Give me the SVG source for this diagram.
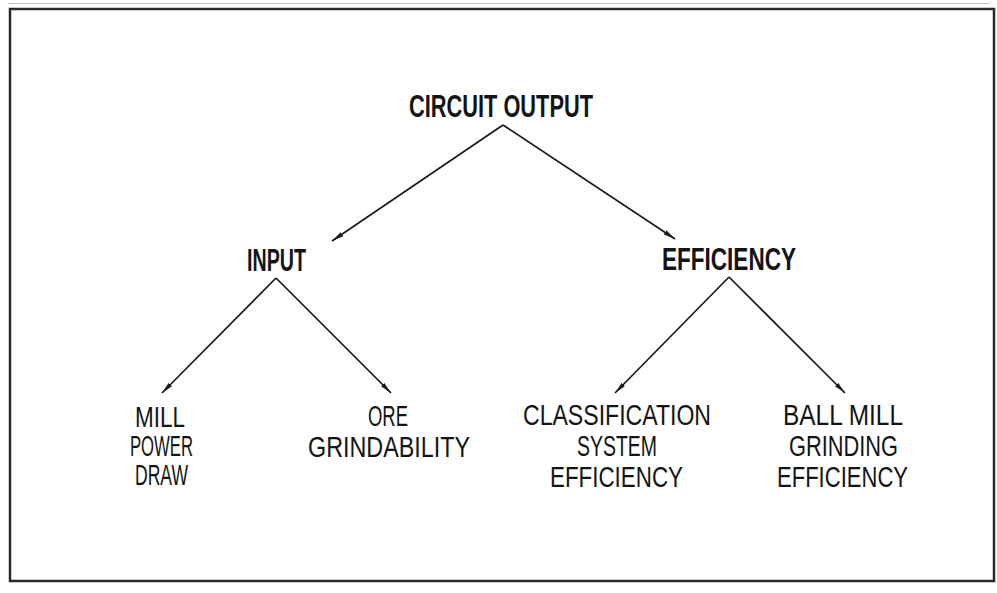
<svg xmlns="http://www.w3.org/2000/svg" width="997" height="593" viewBox="0 0 997 593">
  <style>
    .frame { fill: none; stroke: #2a2a2a; stroke-width: 2.5; }
    .edge { fill: none; stroke: #1a1a1a; stroke-width: 1.7; marker-end: url(#arrow); }
    .head { font-family: "Liberation Sans", "DejaVu Sans", sans-serif; font-weight: bold; font-size: 32px; fill: #141414; }
    .leaf { font-family: "Liberation Sans", "DejaVu Sans", sans-serif; font-size: 29px; fill: #141414; }
  </style>
  <defs>
    <marker id="arrow" viewBox="0 0 12 6" refX="12" refY="3" markerWidth="12" markerHeight="6" markerUnits="userSpaceOnUse" orient="auto">
      <path d="M0,0.6 L12,3 L0,5.4 Z" fill="#1a1a1a"/>
    </marker>
  </defs>

  <rect width="997" height="593" fill="#ffffff"/>
  <line x1="8" y1="3.5" x2="990" y2="3.5" stroke="#9a9a9a" stroke-width="1" opacity="0.6"/>
  <rect class="frame" x="10" y="9" width="984" height="572"/>

  <g id="connectors">
    <line class="edge" x1="503" y1="125" x2="332" y2="241"/>
    <line class="edge" x1="503" y1="125" x2="675" y2="239"/>
    <line class="edge" x1="276" y1="278" x2="162" y2="393"/>
    <line class="edge" x1="276" y1="278" x2="391" y2="393"/>
    <line class="edge" x1="729" y1="277" x2="615" y2="393"/>
    <line class="edge" x1="729" y1="277" x2="845" y2="393"/>
  </g>

  <g id="circuit-output">
    <text class="head" x="409" y="117" textLength="184" lengthAdjust="spacingAndGlyphs">CIRCUIT OUTPUT</text>
  </g>
  <g id="input">
    <text class="head" x="247" y="271" textLength="59" lengthAdjust="spacingAndGlyphs">INPUT</text>
  </g>
  <g id="efficiency">
    <text class="head" x="662" y="270" textLength="134" lengthAdjust="spacingAndGlyphs">EFFICIENCY</text>
  </g>
  <g id="mill-power-draw">
    <text class="leaf" x="135" y="427" textLength="50" lengthAdjust="spacingAndGlyphs">MILL</text>
    <text class="leaf" x="130" y="456" textLength="63" lengthAdjust="spacingAndGlyphs">POWER</text>
    <text class="leaf" x="135" y="485" textLength="53" lengthAdjust="spacingAndGlyphs">DRAW</text>
  </g>
  <g id="ore-grindability">
    <text class="leaf" x="368" y="426" textLength="40" lengthAdjust="spacingAndGlyphs">ORE</text>
    <text class="leaf" x="308" y="457" textLength="162" lengthAdjust="spacingAndGlyphs">GRINDABILITY</text>
  </g>
  <g id="classification-efficiency">
    <text class="leaf" x="523" y="425" textLength="188" lengthAdjust="spacingAndGlyphs">CLASSIFICATION</text>
    <text class="leaf" x="577" y="456" textLength="80" lengthAdjust="spacingAndGlyphs">SYSTEM</text>
    <text class="leaf" x="550" y="487" textLength="133" lengthAdjust="spacingAndGlyphs">EFFICIENCY</text>
  </g>
  <g id="grinding-efficiency">
    <text class="leaf" x="783" y="425" textLength="120" lengthAdjust="spacingAndGlyphs">BALL MILL</text>
    <text class="leaf" x="789" y="456" textLength="109" lengthAdjust="spacingAndGlyphs">GRINDING</text>
    <text class="leaf" x="777" y="487" textLength="131" lengthAdjust="spacingAndGlyphs">EFFICIENCY</text>
  </g>
</svg>
